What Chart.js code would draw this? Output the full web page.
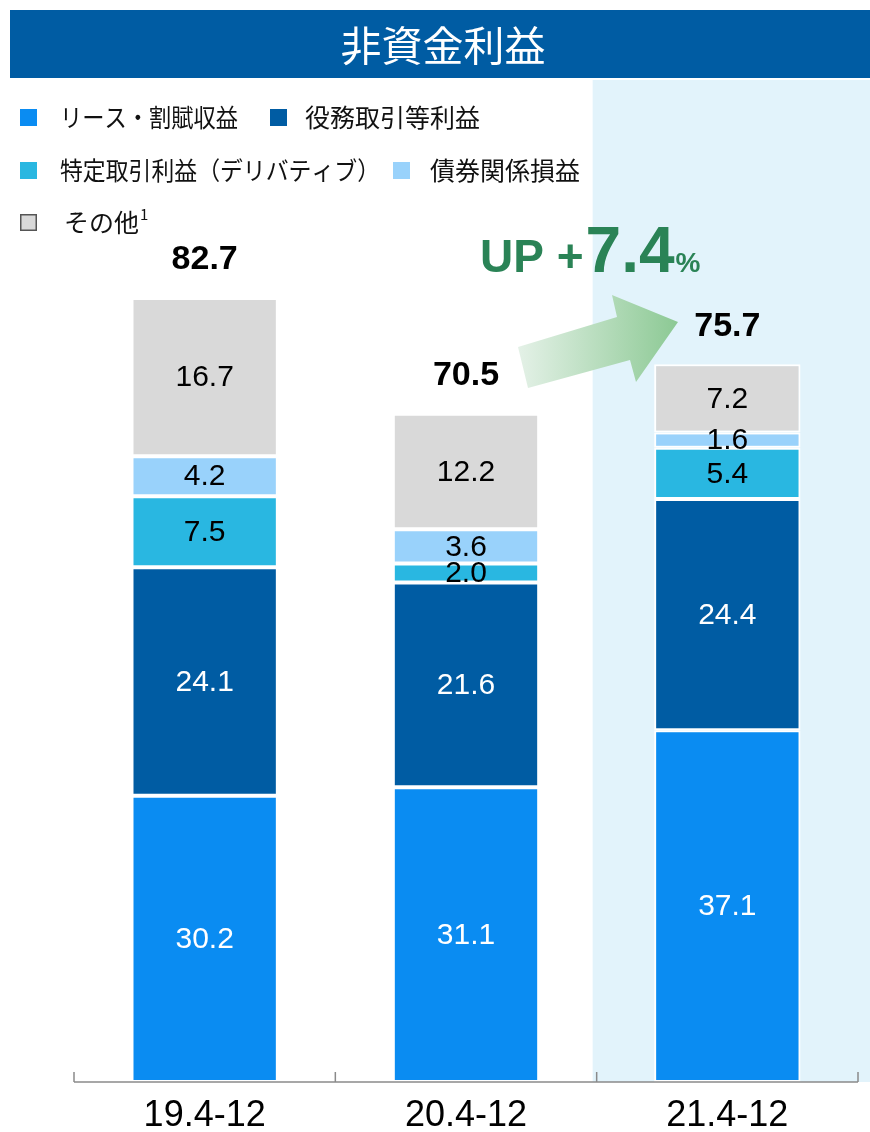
<!DOCTYPE html>
<html lang="ja">
<head>
<meta charset="utf-8">
<title>非資金利益</title>
<script src="https://cdn.jsdelivr.net/npm/chart.js@4"></script>
<style>
  body { margin: 0; background: #fff; }
  canvas { display: block; }
</style>
</head>
<body>
<canvas id="myChart" width="870" height="1132"></canvas>
<script>
// datos del grafico
const categorias = ['19.4-12', '20.4-12', '21.4-12']
const leasing = [30.2, 31.1, 37.1]
const comisiones = [24.1, 21.6, 24.4]
const derivados = [7.5, 2.0, 5.4]
const bonos = [4.2, 3.6, 1.6]
const otros = [16.7, 12.2, 7.2]
const totales = [82.7, 70.5, 75.7]
const nombres = ['リース・割賦収益', '役務取引等利益', '特定取引利益（デリバティブ）', '債券関係損益', 'その他']
const colores = ['#0a8cf2', '#005ca3', '#29b7e1', '#99d2fb', '#d9d9d9']
const textoColores = ['#ffffff', '#ffffff', '#000000', '#000000', '#000000']
const titulo = '非資金利益'
const subida = ['UP +', '7.4', '%']

const jp = '"Noto Sans CJK JP", "Noto Sans", sans-serif'
const num = '"Liberation Sans", Arial, sans-serif'

const series = [leasing, comisiones, derivados, bonos, otros]

// fondo, titulo, leyenda y flecha
const decoracion = {
  id: 'decoracion',
  beforeDraw(chart) {
    const ctx = chart.ctx
    const x = chart.scales.x
    const area = chart.chartArea
    const ancho = (area.right - area.left) / categorias.length
    ctx.save()
    // panel celeste detras del ultimo periodo
    const izq = x.getPixelForValue(2) - ancho / 2 - 4
    ctx.fillStyle = '#e2f3fb'
    ctx.fillRect(izq, 80, chart.width - izq, area.bottom - 80)

    // barra del titulo
    ctx.fillStyle = '#005ca3'
    ctx.fillRect(10, 10, chart.width - 10, 68)
    ctx.fillStyle = '#fff'
    ctx.font = '41px ' + jp
    ctx.textAlign = 'center'
    ctx.textBaseline = 'middle'
    ctx.fillText(titulo, 443, 45)

    // leyenda (x cuadro, x texto, y centro, ancho max)
    const pos = [[20, 60, 117, 178], [270, 305, 117, 186], [20, 60, 170, 320], [393, 430, 170, 160], [20, 64, 222, 200]]
    ctx.textAlign = 'left'
    chart.data.datasets.forEach((ds, i) => {
      const [sx, tx, cy, mw] = pos[i]
      ctx.fillStyle = ds.backgroundColor
      ctx.fillRect(sx, cy - 8, 17, 17)
      if (i === 4) {
        ctx.strokeStyle = '#555'
        ctx.lineWidth = 1.5
        ctx.strokeRect(sx + 0.75, cy - 7.25, 15.5, 15.5)
      }
      ctx.fillStyle = '#111'
      ctx.font = '25px ' + jp
      ctx.fillText(ds.label, tx, cy, mw)
      if (i === 4) {
        const w = ctx.measureText(ds.label).width
        ctx.font = '15px ' + jp
        ctx.fillText('1', tx + w + 1, cy - 8)
      }
    })

    // flecha verde
    const grad = ctx.createLinearGradient(518, 0, 678, 0)
    grad.addColorStop(0, '#e4f1e7')
    grad.addColorStop(1, '#8cc994')
    ctx.fillStyle = grad
    ctx.beginPath()
    ctx.moveTo(518, 347)
    ctx.lineTo(617, 317)
    ctx.lineTo(612, 295)
    ctx.lineTo(678, 322)
    ctx.lineTo(636, 382)
    ctx.lineTo(630, 360)
    ctx.lineTo(528, 388)
    ctx.closePath()
    ctx.fill()

    // UP +7.4%
    ctx.fillStyle = '#2a8356'
    ctx.textBaseline = 'alphabetic'
    ctx.font = 'bold 46px ' + num
    ctx.fillText(subida[0], 480, 272)
    let w = ctx.measureText(subida[0]).width
    ctx.font = 'bold 64px ' + num
    ctx.fillText(subida[1], 480 + w + 2, 272)
    w += ctx.measureText(subida[1]).width + 2
    ctx.font = 'bold 28px ' + num
    ctx.fillText(subida[2], 480 + w + 1, 272)
    ctx.restore()
  },
  afterDatasetsDraw(chart) {
    const ctx = chart.ctx
    const area = chart.chartArea
    const x = chart.scales.x
    ctx.save()
    ctx.textAlign = 'center'
    ctx.textBaseline = 'middle'
    // valores dentro de cada segmento
    chart.data.datasets.forEach((ds, i) => {
      chart.getDatasetMeta(i).data.forEach((bar, j) => {
        ctx.fillStyle = textoColores[i]
        ctx.font = '30px ' + num
        ctx.fillText(ds.data[j].toFixed(1), bar.x, (bar.y + bar.base) / 2 + 1)
      })
    })
    // totales arriba
    const ultimo = chart.getDatasetMeta(chart.data.datasets.length - 1)
    ctx.fillStyle = '#000'
    ctx.font = 'bold 34px ' + num
    ultimo.data.forEach((bar, j) => {
      ctx.fillText(totales[j].toFixed(1), bar.x, bar.y - 38)
    })

    // eje x con marcas hacia arriba
    const ancho = (area.right - area.left) / categorias.length
    ctx.strokeStyle = '#8a8a8a'
    ctx.lineWidth = 1.5
    ctx.beginPath()
    ctx.moveTo(area.left, area.bottom)
    ctx.lineTo(area.right, area.bottom)
    for (let k = 0; k <= categorias.length; k++) {
      const px = area.left + ancho * k
      ctx.moveTo(px, area.bottom - 10)
      ctx.lineTo(px, area.bottom)
    }
    ctx.stroke()

    // etiquetas de categoria
    ctx.fillStyle = '#000'
    ctx.font = '36px ' + num
    categorias.forEach((c, j) => {
      ctx.fillText(c, x.getPixelForValue(j), area.bottom + 34)
    })
    ctx.restore()
  }
}

const ctx = document.getElementById('myChart')

window.myChart = new Chart(ctx, {
  type: 'bar',
  data: {
    labels: categorias,
    datasets: series.map((d, i) => ({
      label: nombres[i],
      data: d,
      backgroundColor: colores[i],
      borderColor: '#ffffff',
      borderWidth: 2,
      borderSkipped: false,
      barPercentage: 0.56,
      categoryPercentage: 1
    }))
  },
  options: {
    responsive: false,
    animation: false,
    layout: {
      padding: { top: 134, bottom: 50, left: 74, right: 12 }
    },
    plugins: {
      legend: { display: false },
      tooltip: { enabled: false },
      title: { display: false }
    },
    scales: {
      x: { stacked: true, display: false },
      y: { stacked: true, display: false, min: 0, max: 100 }
    }
  },
  plugins: [decoracion]
})
</script>
</body>
</html>
